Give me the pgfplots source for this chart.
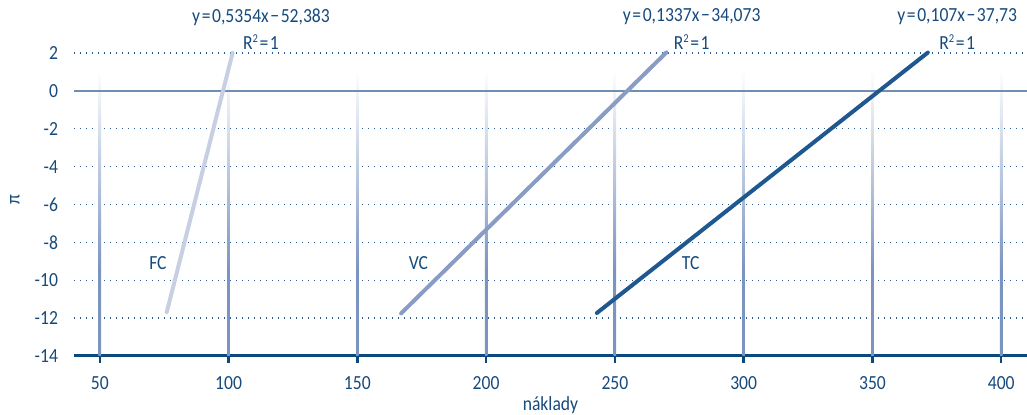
\documentclass[border=0pt]{standalone}
\usepackage{fontspec}
\setmainfont{Carlito}[FakeStretch=0.88]
\usepackage{pgfplots}
\pgfplotsset{compat=1.18}
\definecolor{textc}{RGB}{22,74,124}
\definecolor{axisc}{RGB}{12,72,128}
\definecolor{gridc}{RGB}{124,148,192}
\definecolor{dotc}{RGB}{40,92,145}
\definecolor{zeroc}{RGB}{110,142,178}
\definecolor{fcc}{RGB}{200,207,227}
\definecolor{vcc}{RGB}{137,156,196}
\definecolor{tcc}{RGB}{30,88,142}
\pgfdeclareverticalshading{gridfade}{100bp}{color(0bp)=(gridc); color(40bp)=(gridc); color(75bp)=(white); color(100bp)=(white)}
\newcommand{\sk}{\kern0.8pt}
\newcommand{\Rsq}{R\raisebox{0.75ex}{\fontsize{6}{7}\selectfont 2}\sk=\sk1}
\begin{document}
\begin{tikzpicture}
\useasboundingbox (-37pt,-29.5pt) rectangle (476.5pt,178pt);
\begin{axis}[
  at={(0,0)}, anchor=south west,
  scale only axis, width=476.5pt, height=156.25pt,
  xmin=40, xmax=410, ymin=-14, ymax=2.5,
  clip=false,
  axis lines*=left,
  x axis line style={-, line width=1.5pt, color=axisc},
  y axis line style={draw=none},
  xtick={50,100,...,400}, ytick={-14,-12,...,2},
  tick align=outside,
  major tick length=3.5pt,
  xtick style={line width=1.2pt, color=axisc},
  ytick style={draw=none},
  ymajorgrids,
  major y grid style={dash pattern=on 0.7pt off 2.3pt, line width=0.7pt, color=dotc},
  tick label style={font=\fontsize{10}{12}\selectfont, text=textc},
  /pgf/number format/assume math mode=true,
  /pgf/number format/1000 sep={},
  xticklabel style={yshift=-3pt},
  yticklabel style={xshift=-1pt},
  xlabel={náklady},
  label style={font=\fontsize{10}{12}\selectfont, text=textc},
  xlabel style={at={(axis description cs:0.5,0)}, anchor=north, yshift=-17pt},
]
% vertical gridlines with fading top
\pgfplotsinvokeforeach{50,100,...,400}{
  \shade[shading=gridfade, draw=none]
    ([xshift=-0.65pt]axis cs:#1,1.1) rectangle ([xshift=0.65pt]axis cs:#1,-14);
}
\draw[zeroc, line width=0.9pt] (axis cs:40,0) -- (axis cs:410,0);
% FC
\addplot[fcc, line width=2pt, line cap=round] coordinates {(76,-11.69) (101.6,2.01)};
% VC
\addplot[vcc, line width=2pt, line cap=round] coordinates {(167,-11.75) (270,2.03)};
% TC
\addplot[tcc, line width=2pt, line cap=round] coordinates {(243,-11.73) (371.5,2.02)};
\begin{scope}[every node/.style={font=\fontsize{10}{12}\selectfont, text=textc}]
\node at (axis cs:112.6,3.9) {y\sk=\sk0,5354x\sk−\sk52,383};
\node at (axis cs:112.6,2.58) {\Rsq};
\node at (axis cs:279.8,3.9) {y\sk=\sk0,1337x\sk−\sk34,073};
\node at (axis cs:279.8,2.58) {\Rsq};
\node at (axis cs:382.9,3.9) {y\sk=\sk0,107x\sk−\sk37,73};
\node at (axis cs:382.9,2.58) {\Rsq};
\node at (axis cs:72.6,-9.09) {FC};
\node at (axis cs:173.7,-9.09) {VC};
\node at (axis cs:279.4,-9.09) {TC};
\node[rotate=90] at ([xshift=-29.5pt]axis description cs:0,0.5) {π};
\end{scope}
\end{axis}
\end{tikzpicture}
\end{document}
